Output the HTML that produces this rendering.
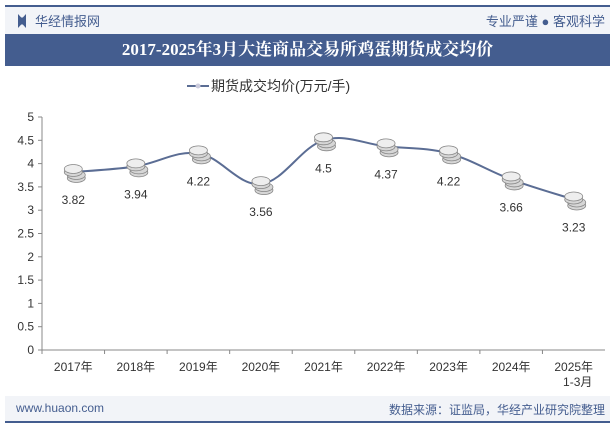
<!DOCTYPE html>
<html><head><meta charset="utf-8"><style>
body{margin:0;width:615px;height:427px;background:#fff;font-family:"Liberation Sans","Noto Sans CJK SC",sans-serif;overflow:hidden;position:relative}
.abs{position:absolute}
</style></head><body>
<div class="abs" style="left:5px;top:5px;width:605px;height:2px;background:#445d8f"></div>
<div class="abs" style="left:5px;top:7px;width:605px;height:27px;background:#f2f4f8"></div>
<div class="abs" style="left:18px;top:14px;width:8px;height:14px;background:#445d8f;clip-path:polygon(0 0,40% 25%,60% 25%,100% 0,100% 100%,60% 75%,40% 75%,0 100%)"></div>
<div class="abs" style="left:35px;top:11px;font-size:13px;color:#445d8f">华经情报网</div>
<div class="abs" style="right:10px;top:11px;font-size:13px;color:#445d8f">专业严谨 ● 客观科学</div>
<div class="abs" style="left:5px;top:34px;width:605px;height:32px;background:#445d8f;color:#fff;font-weight:bold;font-size:17px;line-height:32px;text-align:center;font-family:'Liberation Serif','Noto Serif CJK SC',serif">2017-2025年3月大连商品交易所鸡蛋期货成交均价</div>
<svg class="abs" style="left:0;top:0" width="615" height="427" id="chart">
<g>
<line x1="187" y1="86" x2="209" y2="86" stroke="#5b6d94" stroke-width="2"/><circle cx="198" cy="86" r="2.5" fill="#ccd"/>
<text x="211" y="91" font-size="14" fill="#333">期货成交均价(万元/手)</text></g>
<g id="axes"></g><g id="series"></g>
</svg>
<div class="abs" style="left:5px;top:396px;width:605px;height:25px;background:#f2f4f8"></div>
<div class="abs" style="left:5px;top:421px;width:605px;height:2px;background:#445d8f"></div>
<div class="abs" style="left:16px;top:401px;font-size:12px;color:#445d8f">www.huaon.com</div>
<div class="abs" style="right:10px;top:401px;font-size:12px;color:#445d8f">数据来源：证监局，华经产业研究院整理</div>
<script>
const categories=["2017年","2018年","2019年","2020年","2021年","2022年","2023年","2024年","2025年"];
const values=[3.82,3.94,4.22,3.56,4.5,4.37,4.22,3.66,3.23];
const yTicks=[0,0.5,1,1.5,2,2.5,3,3.5,4,4.5,5];
const NS="http://www.w3.org/2000/svg";
const x0=42,x1=605,yb=350,yt=117;
const xs=i=>x0+(x1-x0)/categories.length*(i+0.5);
const ys=v=>yb-(v/5)*(yb-yt);
function mk(t,a,p){const e=document.createElementNS(NS,t);for(const k in a)e.setAttribute(k,a[k]);p.appendChild(e);return e;}
const ax=document.getElementById('axes'),se=document.getElementById('series');
let l=mk('line',{x1:x0,y1:yt,x2:x0,y2:yb,stroke:'#888'},ax);


l=mk('line',{x1:x0,y1:yb,x2:x1,y2:yb,stroke:'#888'},ax);


yTicks.forEach(v=>{const t=mk('text',{x:34,y:ys(v)+4,'font-size':12,fill:'#333','text-anchor':'end'},ax);t.textContent=v;


mk('line',{x1:38,y1:ys(v),x2:x0,y2:ys(v),stroke:'#888'},ax);});
const step=(x1-x0)/categories.length;
categories.forEach((c,i)=>{mk('line',{x1:x0+step*i,y1:yb,x2:x0+step*i,y2:yb+4,stroke:'#888'},ax);
const t=mk('text',{x:xs(i),y:371,'font-size':12,fill:'#333','text-anchor':'middle'},ax);t.textContent=c;

});
const t2=mk('text',{x:xs(8)+4,y:386,'font-size':12,fill:'#333','text-anchor':'middle'},ax);t2.textContent='1-3月';
const P=values.map((v,i)=>[xs(i),ys(v)]);
let d='M'+P[0][0]+' '+P[0][1];
for(let i=0;i<P.length-1;i++){const p0=P[Math.max(0,i-1)],p1=P[i],p2=P[i+1],p3=P[Math.min(P.length-1,i+2)],k=0.18;
d+=` C${p1[0]+(p2[0]-p0[0])*k} ${p1[1]+(p2[1]-p0[1])*k} ${p2[0]-(p3[0]-p1[0])*k} ${p2[1]-(p3[1]-p1[1])*k} ${p2[0]} ${p2[1]}`;}
const pth=mk('path',{d:d,fill:'none',stroke:'#5b6d94','stroke-width':2},se);


values.forEach((v,i)=>{const g=mk('g',{},se);


const cx=xs(i),cy=ys(v);
[6,3,0,-3].forEach((o,k)=>mk('ellipse',{cx:cx+(k<2?3:0),cy:cy+o,rx:9,ry:4.5,fill:k==3?'#eee':'#d6d6d6',stroke:'#888','stroke-width':0.8},g));
const t=mk('text',{x:cx,y:cy+32,'font-size':12,fill:'#333','text-anchor':'middle'},g);t.textContent=v;

});
</script>
</body></html>
